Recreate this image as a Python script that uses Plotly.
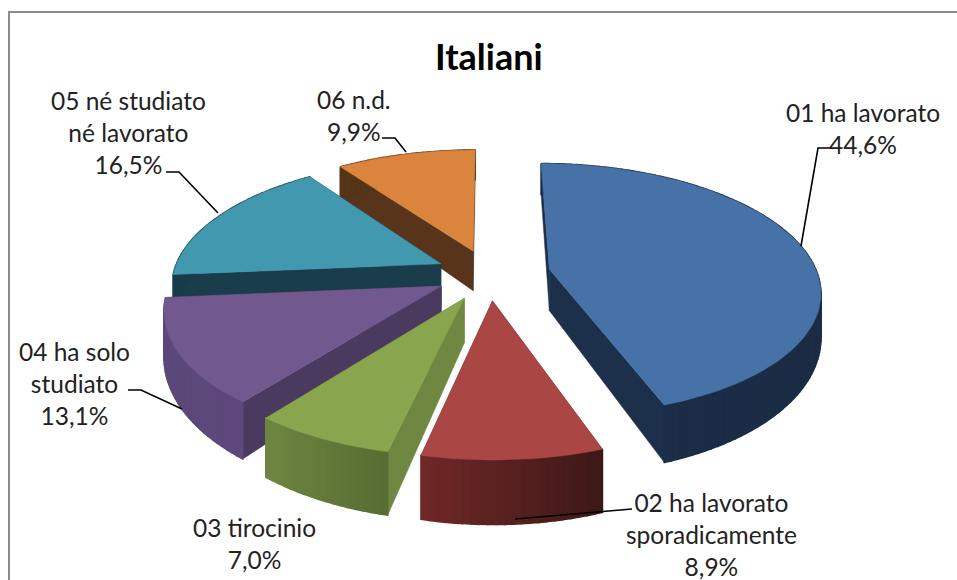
import math
import plotly.graph_objects as go

title = "Italiani"
categories = ["01 ha lavorato", "02 ha lavorato<br>sporadicamente", "03 tirocinio",
              "04 ha solo<br>studiato", "05 né studiato<br>né lavorato", "06 n.d."]
values = [44.6, 8.9, 7.0, 13.1, 16.5, 9.9]
pct_text = ["44,6%", "8,9%", "7,0%", "13,1%", "16,5%", "9,9%"]
explode = [0.23, 0.21, 0.21, 0.2, 0.2, 0.2]

top_colors = ["#4672a8", "#aa4644", "#89a54e", "#71588f", "#4198af", "#db843d"]
wall_left = [(27, 46, 72), (112, 40, 38), (110, 134, 64), (92, 72, 122), (24, 60, 74), (86, 52, 24)]
wall_right = [(27, 44, 68), (60, 24, 24), (88, 108, 50), (92, 72, 122), (24, 60, 74), (86, 52, 24)]
face_colors = ["#1c304c", "#5c2322", "#6f8740", "#4b3a60", "#1a3d4b", "#57341a"]
draw_order = [5, 4, 3, 2, 0, 1]

CX, CY, A, B, K, DEPTH = 489, 274, 268, 124, 0.16, 42


def project(u, v, down=0.0):
    s = 1 / (1 - K * v)
    return CX + A * u * s, CY + B * v * s + down * DEPTH * s * s


def slice_geometry(start_val, val, pull):
    t0 = start_val / 100 * 2 * math.pi
    t1 = (start_val + val) / 100 * 2 * math.pi
    tm = (t0 + t1) / 2
    apex = (pull * math.sin(tm), -pull * math.cos(tm))
    n = max(12, int(val * 2.5))
    rim = []
    for i in range(n + 1):
        t = t0 + (t1 - t0) * i / n
        rim.append((apex[0] + math.sin(t), apex[1] - math.cos(t)))
    return apex, rim


def poly(fig, pts, color, width=0.0):
    fig.add_trace(go.Scatter(
        x=[p[0] for p in pts] + [pts[0][0]], y=[p[1] for p in pts] + [pts[0][1]],
        mode="lines", fill="toself", fillcolor=color, line=dict(color=color, width=width),
        hoverinfo="skip", showlegend=False))


fig = go.Figure()
starts = [sum(values[:i]) for i in range(len(values))]
for idx in draw_order:
    apex, rim = slice_geometry(starts[idx], values[idx], explode[idx])
    for end in (rim[0], rim[-1]):
        poly(fig, [project(*apex), project(*end), project(*end, 1), project(*apex, 1)], face_colors[idx], width=0.5)
    lo, hi = min(p[0] for p in rim), max(p[0] for p in rim)
    for a, b in zip(rim[:-1], rim[1:]):
        frac = ((a[0] + b[0]) / 2 - lo) / (hi - lo)
        c0, c1 = wall_left[idx], wall_right[idx]
        col = "rgb(%d,%d,%d)" % tuple(round(c0[j] + (c1[j] - c0[j]) * frac) for j in range(3))
        poly(fig, [project(*a), project(*b), project(*b, 1), project(*a, 1)], col, width=1.5)
    poly(fig, [project(*apex)] + [project(*p) for p in rim], top_colors[idx], width=0.5)

# leader lines, from each label towards its slice
leaders = [([832, 818, 801], [148, 148, 246]),
           ([515, 632], [519, 509]),
           ([], []),
           ([128, 141, 182], [390, 390, 409]),
           ([166, 179, 218], [172, 172, 213]),
           ([382, 395, 406], [138, 138, 152])]
for lx, ly in leaders:
    if lx:
        fig.add_trace(go.Scatter(x=lx, y=ly, mode="lines", line=dict(color="black", width=1.6),
                                 hoverinfo="skip", showlegend=False))

label_pos = [(863, 128), (711, 534), (254, 543), (74, 383), (128, 132), (354, 115)]
for (x, y), cat, pct in zip(label_pos, categories, pct_text):
    fig.add_annotation(x=x, y=y, text=cat + "<br>" + pct, showarrow=False, align="center",
                       xanchor="center", yanchor="middle",
                       font=dict(family="Lato", size=24.5, color="#222222"))
fig.add_annotation(x=489, y=56, text="<b>" + title + "</b>", showarrow=False,
                   font=dict(family="Lato", size=36, color="black"))

fig.add_shape(type="line", x0=9, x1=9, y0=11, y1=580, line=dict(color="#8c8c8c", width=2))
fig.add_shape(type="line", x0=9, x1=957, y0=12, y1=12, line=dict(color="#8c8c8c", width=2))

fig.update_layout(width=957, height=580, margin=dict(l=0, r=0, t=0, b=0),
                  paper_bgcolor="white", plot_bgcolor="white",
                  xaxis=dict(range=[0, 957], visible=False),
                  yaxis=dict(range=[580, 0], visible=False))
fig.write_html("out.html", config={"displayModeBar": False},
               post_script="document.body.style.margin='0';")
